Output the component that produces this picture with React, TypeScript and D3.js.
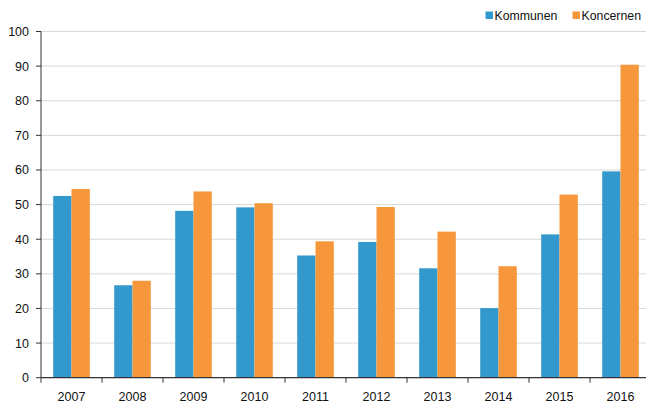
import React, { useRef, useEffect } from "react";
import * as d3 from "d3";

const years = ["2007", "2008", "2009", "2010", "2011", "2012", "2013", "2014", "2015", "2016"];
const kommunen = [52.5, 26.7, 48.2, 49.2, 35.3, 39.2, 31.6, 20.1, 41.4, 59.6];
const koncernen = [54.5, 28.0, 53.8, 50.4, 39.4, 49.3, 42.2, 32.2, 52.9, 90.4];
const seriesNames = ["Kommunen", "Koncernen"];
const seriesColors = ["#3399cc", "#f5973a"];
const yTicks = [0, 10, 20, 30, 40, 50, 60, 70, 80, 90, 100];

const W = 646;
const H = 403;
const FONT = "'Liberation Sans', Arial, sans-serif";

const App = () => {
  const svgRef = useRef<SVGSVGElement>(null);

  useEffect(() => {
    const svg = d3.select(svgRef.current);
    svg.selectAll("*").remove();

    const left = 41;
    const x = d3.scaleBand().domain(years).range([left, left + 61 * years.length]).padding(0);
    const inner = d3
      .scaleBand()
      .domain(seriesNames)
      .range([0, x.bandwidth()])
      .paddingInner(0)
      .paddingOuter(0.667);
    const y = d3.scaleLinear().domain([0, 100]).range([377.7, 31.5]);

    // grid
    svg
      .append("g")
      .selectAll("line")
      .data(yTicks.filter((t) => t > 0))
      .join("line")
      .attr("x1", left)
      .attr("x2", W)
      .attr("y1", (d) => y(d))
      .attr("y2", (d) => y(d))
      .attr("stroke", "#d9d9d9")
      .attr("stroke-width", 1);

    // bars
    const values = [kommunen, koncernen];
    seriesNames.forEach((s, si) => {
      svg
        .append("g")
        .selectAll("rect")
        .data(years)
        .join("rect")
        .attr("x", (d) => (x(d) as number) + (inner(s) as number))
        .attr("width", inner.bandwidth())
        .attr("y", (d, i) => y(values[si][i]))
        .attr("height", (d, i) => y(0) - y(values[si][i]))
        .attr("fill", seriesColors[si]);
    });

    // y axis
    svg
      .append("line")
      .attr("x1", left)
      .attr("x2", left)
      .attr("y1", y(100))
      .attr("y2", y(0))
      .attr("stroke", "#333")
      .attr("stroke-width", 1);
    const yg = svg.append("g");
    yTicks.forEach((t) => {
      yg.append("line")
        .attr("x1", left - 5)
        .attr("x2", left)
        .attr("y1", y(t))
        .attr("y2", y(t))
        .attr("stroke", "#333");
      yg.append("text")
        .attr("x", 29)
        .attr("y", y(t))
        .attr("dy", "0.36em")
        .attr("text-anchor", "end")
        .attr("font-family", FONT)
        .attr("font-size", 12.5)
        .attr("fill", "#111")
        .text(t);
    });

    // x axis
    svg
      .append("line")
      .attr("x1", left)
      .attr("x2", W)
      .attr("y1", y(0))
      .attr("y2", y(0))
      .attr("stroke", "#333")
      .attr("stroke-width", 1.3);
    const xg = svg.append("g");
    years.forEach((yr) => {
      const bx = x(yr) as number;
      xg.append("line")
        .attr("x1", bx)
        .attr("x2", bx)
        .attr("y1", y(0))
        .attr("y2", y(0) + 5)
        .attr("stroke", "#333");
      xg.append("text")
        .attr("x", bx + x.bandwidth() / 2)
        .attr("y", 401)
        .attr("text-anchor", "middle")
        .attr("font-family", FONT)
        .attr("font-size", 12.5)
        .attr("fill", "#111")
        .text(yr);
    });

    // legend
    const legendX = [485.5, 572.5];
    const lg = svg.append("g");
    seriesNames.forEach((s, i) => {
      lg.append("rect")
        .attr("x", legendX[i])
        .attr("y", 11.5)
        .attr("width", 7.5)
        .attr("height", 7.5)
        .attr("fill", seriesColors[i]);
      lg.append("text")
        .attr("x", legendX[i] + 9)
        .attr("y", 15.5)
        .attr("dy", "0.36em")
        .attr("font-family", FONT)
        .attr("font-size", 12.3)
        .attr("fill", "#111")
        .text(s);
    });
  }, []);

  return (
    <svg
      ref={svgRef}
      width={W}
      height={H}
      style={{ position: "absolute", left: 0, top: 0, background: "#fff" }}
    />
  );
};

export default App;
